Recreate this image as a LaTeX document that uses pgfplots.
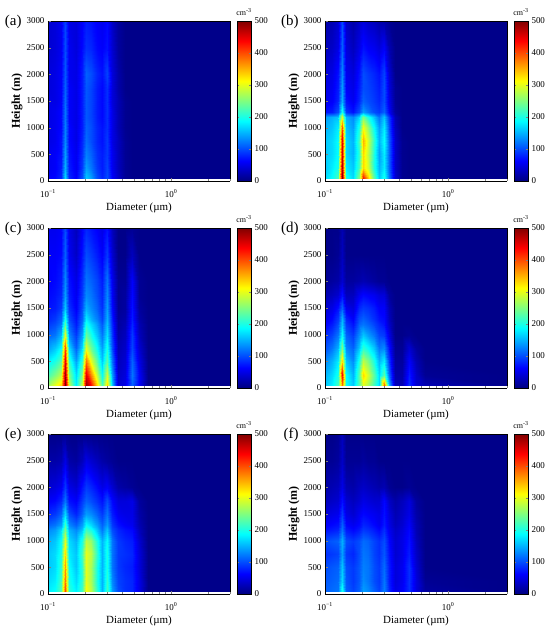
\documentclass[border=0pt]{standalone}
\usepackage{pgfplots}
\pgfplotsset{compat=1.18}
\usepackage{pgfplotstable}
\usepackage{fontspec}
\setmainfont{Liberation Serif}
\pgfplotsset{/pgf/number format/assume math mode=true}
\pgfplotstableread{
d h a b c dd e f
0.1 50 60 170 260 160 180 110
0.115 50 65 190 300 180 190 115
0.128 50 80 220 330 220 230 120
0.138 50 170 500 500 380 400 200
0.148 50 80 200 280 190 210 110
0.168 50 60 170 180 160 180 95
0.188 50 100 250 280 230 220 110
0.205 50 160 430 490 300 310 140
0.225 50 140 340 430 270 280 130
0.25 50 100 230 330 220 210 110
0.275 50 80 160 220 170 150 95
0.3 50 100 200 330 390 220 125
0.33 50 60 120 160 150 140 80
0.37 50 35 40 40 30 100 50
0.42 50 10 8 50 25 85 60
0.48 50 5 5 110 85 80 85
0.55 50 5 5 60 40 50 45
0.65 50 5 5 5 25 5 15
3 50 5 5 5 5 5 5
0.1 250 55 160 220 150 170 105
0.115 250 60 180 250 170 180 110
0.128 250 75 200 280 200 220 115
0.138 250 150 480 490 440 380 170
0.148 250 75 180 250 190 200 105
0.168 250 55 160 170 150 170 90
0.188 250 90 220 250 230 210 105
0.205 250 140 330 450 330 300 130
0.225 250 120 290 370 290 270 120
0.25 250 90 200 280 230 200 100
0.275 250 75 150 190 170 150 90
0.3 250 95 180 290 230 210 120
0.33 250 55 110 140 110 130 75
0.37 250 30 35 35 20 95 45
0.42 250 10 8 45 20 85 55
0.48 250 5 5 120 75 80 85
0.55 250 5 5 60 35 50 45
0.65 250 5 5 5 10 5 10
3 250 5 5 5 5 5 5
0.1 500 55 160 180 130 160 100
0.115 500 60 170 200 150 170 105
0.128 500 70 190 230 180 210 110
0.138 500 140 460 450 330 360 160
0.148 500 70 170 210 160 190 100
0.168 500 55 150 140 130 160 90
0.188 500 85 210 210 200 210 105
0.205 500 125 330 380 280 300 125
0.225 500 110 280 300 250 270 120
0.25 500 85 200 230 200 200 100
0.275 500 75 140 160 150 150 90
0.3 500 90 180 230 180 200 115
0.33 500 55 110 120 90 120 75
0.37 500 30 35 30 15 90 45
0.42 500 10 8 40 15 80 55
0.48 500 5 5 110 60 75 85
0.55 500 5 5 50 25 45 40
0.65 500 5 5 5 5 5 5
3 500 5 5 5 5 5 5
0.1 750 50 160 140 100 160 85
0.115 750 55 170 160 120 170 90
0.128 750 70 190 190 150 200 95
0.138 750 130 450 400 250 330 140
0.148 750 65 170 170 130 180 90
0.168 750 50 150 110 110 160 80
0.188 750 80 220 170 160 220 100
0.205 750 115 350 300 210 300 120
0.225 750 100 290 240 190 280 115
0.25 750 80 210 190 160 210 95
0.275 750 70 150 140 120 150 85
0.3 750 90 190 200 130 200 105
0.33 750 50 110 100 70 120 70
0.37 750 30 35 25 10 90 40
0.42 750 10 8 35 10 85 50
0.48 750 5 5 95 40 80 75
0.55 750 5 5 40 15 45 35
0.65 750 5 5 5 5 5 5
3 750 5 5 5 5 5 5
0.1 1000 50 150 110 80 150 100
0.115 1000 55 160 120 95 160 105
0.128 1000 65 180 150 120 190 110
0.138 1000 125 400 300 190 300 150
0.148 1000 65 160 130 110 170 100
0.168 1000 50 140 90 90 150 90
0.188 1000 75 200 140 130 200 100
0.205 1000 110 310 240 160 280 115
0.225 1000 100 260 200 140 260 110
0.25 1000 80 190 160 120 200 95
0.275 1000 70 140 120 95 150 85
0.3 1000 85 180 175 90 190 100
0.33 1000 50 100 90 50 120 65
0.37 1000 25 30 20 5 90 40
0.42 1000 8 5 30 5 80 50
0.48 1000 5 5 90 10 75 70
0.55 1000 5 5 30 5 40 30
0.65 1000 5 5 5 5 5 5
3 1000 5 5 5 5 5 5
0.1 1200 50 140 90 60 130 70
0.115 1200 55 150 100 75 140 75
0.128 1200 65 160 120 100 170 80
0.138 1200 120 300 230 160 250 120
0.148 1200 60 150 110 90 150 75
0.168 1200 50 130 75 70 130 65
0.188 1200 75 170 120 110 160 75
0.205 1200 105 250 200 120 220 90
0.225 1200 95 200 170 110 200 85
0.25 1200 75 160 140 95 160 75
0.275 1200 65 120 105 80 120 65
0.3 1200 85 160 160 70 160 85
0.33 1200 50 90 80 35 100 55
0.37 1200 25 25 15 5 80 35
0.42 1200 8 5 25 5 70 45
0.48 1200 5 5 80 5 65 65
0.55 1200 5 5 25 5 30 25
0.65 1200 5 5 5 5 5 5
3 1200 5 5 5 5 5 5
0.1 1300 50 70 80 50 110 60
0.115 1300 55 75 90 65 120 65
0.128 1300 65 100 110 90 140 70
0.138 1300 120 200 200 150 220 110
0.148 1300 60 90 100 80 130 65
0.168 1300 50 70 70 60 110 55
0.188 1300 75 100 110 100 140 65
0.205 1300 105 140 180 110 190 80
0.225 1300 95 120 150 100 170 75
0.25 1300 75 100 125 85 140 65
0.275 1300 65 90 95 70 110 55
0.3 1300 85 110 150 65 140 75
0.33 1300 50 60 75 30 90 50
0.37 1300 25 15 15 5 70 30
0.42 1300 8 5 20 5 60 40
0.48 1300 5 5 75 5 55 60
0.55 1300 5 5 20 5 25 25
0.65 1300 5 5 5 5 5 5
3 1300 5 5 5 5 5 5
0.1 1500 50 55 70 40 80 45
0.115 1500 50 60 75 50 90 50
0.128 1500 60 80 90 70 110 55
0.138 1500 115 150 160 110 170 90
0.148 1500 60 70 85 55 100 50
0.168 1500 50 55 60 45 80 40
0.188 1500 75 80 100 80 110 55
0.205 1500 105 110 150 90 140 65
0.225 1500 95 100 130 85 130 60
0.25 1500 75 90 110 75 110 55
0.275 1500 65 80 85 60 90 50
0.3 1500 85 100 140 60 120 70
0.33 1500 45 50 65 25 75 45
0.37 1500 25 10 10 5 55 25
0.42 1500 8 5 15 5 50 35
0.48 1500 5 5 70 5 50 50
0.55 1500 5 5 15 5 20 20
0.65 1500 5 5 5 5 5 5
3 1500 5 5 5 5 5 5
0.1 1750 45 50 65 25 60 30
0.115 1750 50 55 70 30 65 35
0.128 1750 60 75 80 40 80 40
0.138 1750 110 140 140 70 120 70
0.148 1750 60 60 75 30 70 40
0.168 1750 50 50 55 30 60 30
0.188 1750 75 75 90 55 90 40
0.205 1750 105 100 130 65 110 50
0.225 1750 95 95 120 60 100 45
0.25 1750 75 85 100 55 85 40
0.275 1750 65 75 80 45 70 40
0.3 1750 85 100 130 45 100 65
0.33 1750 45 45 60 15 65 35
0.37 1750 20 10 10 5 45 20
0.42 1750 5 5 15 5 45 30
0.48 1750 5 5 65 5 50 45
0.55 1750 5 5 10 5 15 15
0.65 1750 5 5 5 5 5 5
3 1750 5 5 5 5 5 5
0.1 2000 45 45 60 10 40 20
0.115 2000 50 50 65 15 45 25
0.128 2000 60 70 75 20 55 30
0.138 2000 105 130 130 40 90 50
0.148 2000 55 55 70 15 50 25
0.168 2000 50 45 50 15 40 20
0.188 2000 75 70 85 20 70 30
0.205 2000 110 100 120 25 90 35
0.225 2000 100 90 110 20 80 30
0.25 2000 80 80 95 15 65 25
0.275 2000 70 70 75 10 50 20
0.3 2000 95 95 120 10 60 25
0.33 2000 45 40 55 5 40 10
0.37 2000 20 5 10 5 20 5
0.42 2000 5 5 10 5 15 5
0.48 2000 5 5 60 5 10 10
0.55 2000 5 5 10 5 5 5
0.65 2000 5 5 5 5 5 5
3 2000 5 5 5 5 5 5
0.1 2500 40 30 60 5 20 10
0.115 2500 45 35 60 5 20 10
0.128 2500 55 50 65 10 25 15
0.138 2500 100 110 110 30 50 35
0.148 2500 55 45 55 5 20 10
0.168 2500 45 30 35 5 15 10
0.188 2500 65 50 70 5 30 10
0.205 2500 85 70 100 5 50 15
0.225 2500 80 60 90 5 40 10
0.25 2500 65 55 75 5 30 10
0.275 2500 60 45 60 5 20 5
0.3 2500 70 60 90 5 15 5
0.33 2500 40 25 40 5 10 5
0.37 2500 15 5 5 5 5 5
0.42 2500 5 5 5 5 5 5
0.48 2500 5 5 30 5 5 5
0.55 2500 5 5 5 5 5 5
0.65 2500 5 5 5 5 5 5
3 2500 5 5 5 5 5 5
0.1 3000 40 20 55 5 5 5
0.115 3000 45 25 55 5 5 5
0.128 3000 55 40 60 5 5 10
0.138 3000 95 100 100 25 10 30
0.148 3000 50 35 50 5 5 5
0.168 3000 45 20 30 5 5 5
0.188 3000 60 35 60 5 5 5
0.205 3000 75 45 80 5 5 5
0.225 3000 70 35 70 5 5 5
0.25 3000 60 30 60 5 5 5
0.275 3000 55 20 50 5 5 5
0.3 3000 65 20 70 5 5 5
0.33 3000 35 10 30 5 5 5
0.37 3000 15 5 5 5 5 5
0.42 3000 5 5 5 5 5 5
0.48 3000 5 5 10 5 5 5
0.55 3000 5 5 5 5 5 5
0.65 3000 5 5 5 5 5 5
3 3000 5 5 5 5 5 5
}\grid

\newcommand{\panel}[4]{%
\begin{axis}[
    at={#1}, name=#2,
    scale only axis, width=182bp, height=160bp,
    anchor=south west,
    xmode=log, xmin=0.1, xmax=3, ymin=0, ymax=3000,
    view={0}{90},
    colormap/jet, point meta min=0, point meta max=500,
    axis on top,
    tick align=inside, tick pos=left,
    ytick={0,500,1000,1500,2000,2500,3000},
    xtick={0.1,1},
    xticklabels={10\textsuperscript{−1},10\textsuperscript{0}},
    minor xtick={0.2,0.3,0.4,0.5,0.6,0.7,0.8,0.9,2,3},
    major tick length=3bp, minor tick length=2bp,
    scaled y ticks=false,
    yticklabel style={/pgf/number format/1000 sep={}},
    xticklabel style={yshift=-5bp},
    tick label style={font=\fontsize{9}{10}\selectfont},
    xlabel={Diameter (µm)},
    ylabel={\textbf{Height (m)}},
    xlabel style={font=\fontsize{11}{12}\selectfont, at={(axis description cs:0.5,-0.165)}, anchor=center},
    ylabel style={font=\fontsize{12}{13}\selectfont, at={(axis description cs:-0.17,0.5)}, anchor=center},
    colorbar,
    colorbar style={
      width=14bp, at={(parent axis.north east)}, anchor=north west, xshift=-1.5bp,
      ytick={0,100,200,300,400,500},
      tick align=inside, major tick length=2bp,
      tick label style={font=\fontsize{9}{10}\selectfont},
      title={cm\textsuperscript{-3}},
      title style={font=\fontsize{8}{9}\selectfont, yshift=-4bp},
    },
  ]
\addplot3[surf, shader=interp, mesh/cols=19] table[x=d,y=h,z=#3] {\grid};
\end{axis}
\node[anchor=east, font=\fontsize{15}{15}\selectfont, xshift=-23bp, yshift=-1bp] at (#2.north west) {(#4)};
}

\begin{document}
\begin{tikzpicture}
\path[use as bounding box] (0,0) rectangle (550bp,632bp);
\panel{(48bp,451bp)}{pa}{a}{a}
\panel{(325bp,451bp)}{pb}{b}{b}
\panel{(48bp,244bp)}{pc}{c}{c}
\panel{(325bp,244bp)}{pd}{dd}{d}
\panel{(48bp,38bp)}{pe}{e}{e}
\panel{(325bp,38bp)}{pf}{f}{f}
\end{tikzpicture}
\end{document}
